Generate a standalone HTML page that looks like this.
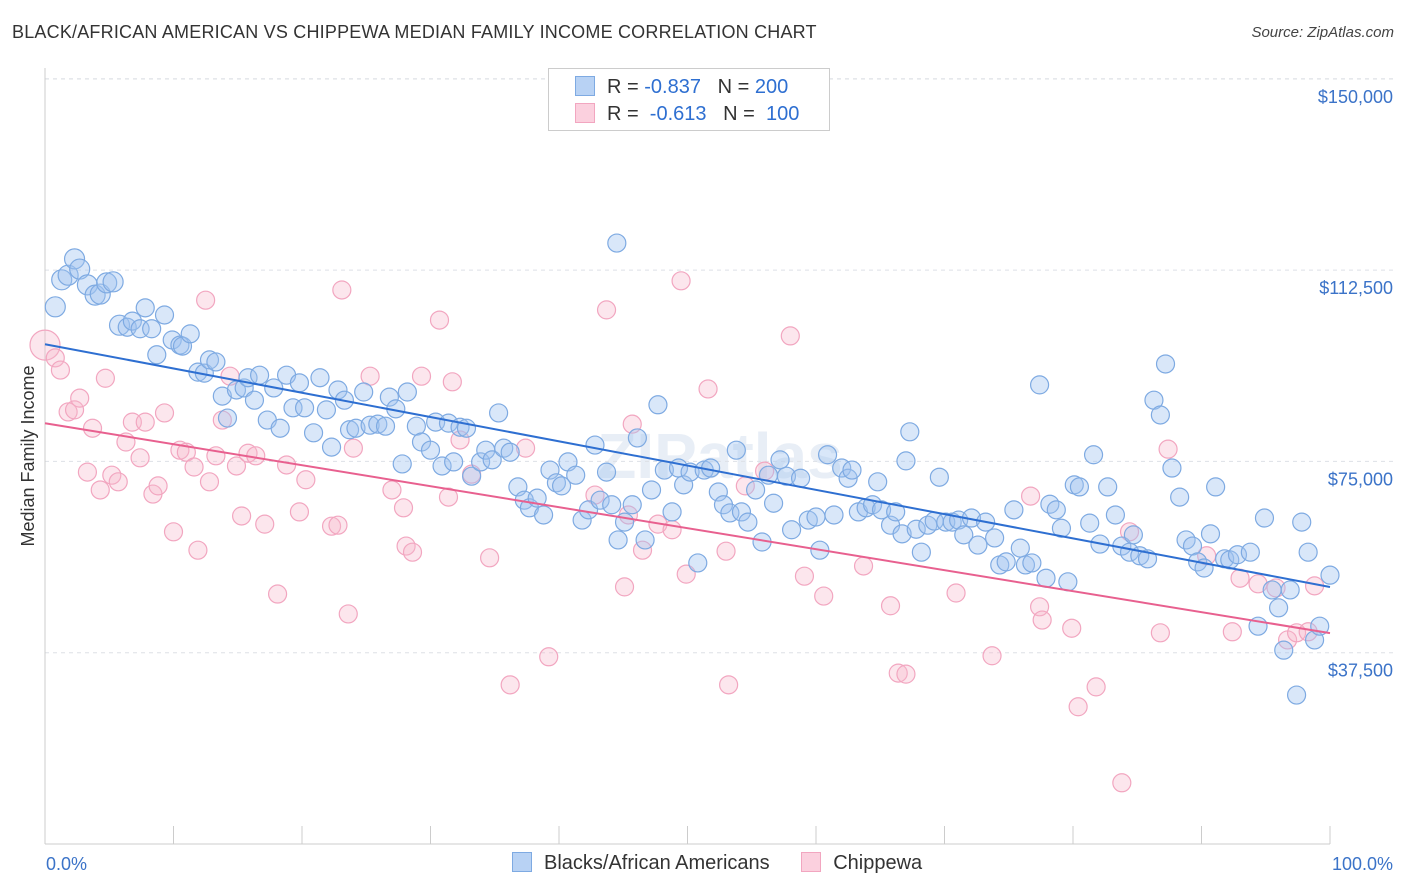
<!DOCTYPE html>
<html><head><meta charset="utf-8"><style>
body{margin:0;background:#fff;font-family:"Liberation Sans",sans-serif;}
#wrap{position:relative;width:1406px;height:892px;overflow:hidden;}
.title{position:absolute;left:12px;top:22px;font-size:18px;color:#333;letter-spacing:0.2px;}
.src{position:absolute;right:12px;top:24px;font-size:15px;color:#444;font-style:italic;}
</style></head><body>
<div id="wrap">
<div class="title">BLACK/AFRICAN AMERICAN VS CHIPPEWA MEDIAN FAMILY INCOME CORRELATION CHART</div>
<div class="src">Source: ZipAtlas.com</div>
<svg id="svg" width="1406" height="892" style="position:absolute;left:0;top:0"></svg>
</div>
<script>
const blueX=[0.8,1.3,1.8,2.3,2.7,3.3,3.9,4.3,4.8,5.3,5.8,6.4,6.8,7.4,7.8,8.3,8.7,9.3,9.9,10.5,10.7,11.3,11.9,12.4,12.8,13.3,13.8,14.2,14.9,15.5,15.8,16.3,16.7,17.3,17.8,18.3,18.8,19.3,19.8,20.2,20.9,21.4,21.9,22.3,22.8,23.3,23.7,24.2,24.8,25.3,25.9,26.5,26.8,27.3,27.8,28.2,28.9,29.3,30.0,30.4,30.9,31.4,31.8,32.3,32.8,33.2,33.9,34.3,34.8,35.3,35.7,36.2,36.8,37.3,37.7,38.3,38.8,39.3,39.8,40.2,40.7,41.3,41.8,42.3,42.8,43.2,43.7,44.1,44.5,44.6,45.1,45.7,46.1,46.7,47.2,47.7,48.2,48.8,49.3,49.7,50.2,50.8,51.3,51.8,52.4,52.8,53.3,53.8,54.2,54.7,55.3,55.8,56.3,56.7,57.2,57.7,58.1,58.8,59.4,60.0,60.3,60.9,61.4,62.0,62.5,62.8,63.3,63.9,64.4,64.8,65.1,65.8,66.2,66.7,67.0,67.3,67.8,68.2,68.7,69.2,69.6,70.1,70.6,71.1,71.5,72.1,72.6,73.2,73.9,74.3,74.8,75.4,75.9,76.3,76.8,77.4,77.9,78.2,78.7,79.1,79.6,80.1,80.5,81.3,81.6,82.1,82.7,83.3,83.8,84.4,84.7,85.2,85.8,86.3,86.8,87.2,87.7,88.3,88.8,89.3,89.7,90.2,90.7,91.1,91.8,92.2,92.8,93.8,94.4,94.9,95.5,96.0,96.4,96.9,97.4,97.8,98.3,98.8,99.2,100];
const blueY=[105.3,110.6,111.5,114.7,112.7,109.6,107.6,107.8,110.0,110.2,101.7,101.3,102.5,101.0,105.1,101.0,95.9,103.7,98.8,97.8,97.6,100.0,92.5,92.3,94.9,94.5,87.8,83.5,89.0,89.4,91.4,87.0,91.9,83.1,89.4,81.5,91.9,85.5,90.4,85.5,80.6,91.4,85.1,77.8,89.0,87.0,81.2,81.5,88.6,82.1,82.3,81.9,87.6,85.3,74.5,88.6,81.9,78.8,77.2,82.7,74.1,82.5,74.9,81.7,81.5,72.1,74.9,77.2,75.3,84.5,77.6,76.8,70.0,67.4,65.9,67.8,64.5,73.3,70.8,70.2,74.9,72.3,63.5,65.5,78.2,67.4,72.9,66.5,117.8,59.6,63.1,66.5,79.6,59.6,69.4,86.1,73.3,65.1,73.7,70.4,72.9,55.1,73.3,73.7,69.0,66.5,64.9,77.2,65.1,63.1,69.4,59.2,72.3,66.8,75.3,72.1,61.6,71.7,63.5,64.1,57.6,76.3,64.5,73.7,71.7,73.3,65.1,65.9,66.5,71.0,65.5,62.5,65.1,60.8,75.1,80.8,61.7,57.2,62.5,63.3,71.9,63.1,63.1,63.5,60.6,63.9,58.6,63.1,60.0,54.7,55.3,65.5,58.0,54.7,55.1,90.0,52.1,66.6,65.5,61.9,51.4,70.4,70.0,62.9,76.3,58.8,70.0,64.5,58.4,57.2,60.6,56.5,55.9,87.0,84.1,94.1,73.7,68.0,59.6,58.4,55.3,54.1,60.8,70.0,55.9,55.7,56.7,57.2,42.7,63.9,49.8,46.3,38.0,49.8,29.2,63.1,57.2,40.0,42.7,52.7];
const pinkX=[0,0.8,1.2,1.8,2.3,2.7,3.3,3.7,4.3,4.7,5.2,5.7,6.3,6.8,7.4,7.8,8.4,8.8,9.3,10.0,10.5,11.0,11.6,11.9,12.5,12.8,13.3,13.8,14.4,14.9,15.3,15.8,16.4,17.1,18.1,18.8,19.8,20.3,22.3,22.8,23.1,23.6,24.0,25.3,27.0,27.9,28.1,28.6,29.3,30.7,31.4,31.7,32.3,33.2,34.6,36.2,37.4,39.2,42.8,43.7,45.1,45.4,45.7,46.5,47.7,48.8,49.5,49.9,51.6,53.0,53.2,54.5,56.0,58.0,59.1,60.6,63.7,65.8,66.4,67.0,70.9,73.7,76.7,77.4,77.6,79.9,80.4,81.8,83.8,84.4,86.8,87.4,90.4,92.4,93.0,94.4,95.8,96.7,97.4,98.3,98.8];
const pinkY=[97.8,95.3,92.9,84.7,85.1,87.4,72.9,81.5,69.4,91.3,72.3,71.0,78.8,82.7,75.7,82.7,68.6,70.2,84.5,61.2,77.2,76.8,73.9,57.6,106.6,71.0,76.1,83.1,91.7,74.1,64.3,76.6,76.1,62.7,49.0,74.3,65.1,71.4,62.3,62.5,108.6,45.1,77.6,91.7,69.4,65.9,58.4,57.2,91.7,102.7,68.0,90.6,79.2,72.5,56.1,31.2,77.6,36.7,68.4,104.7,50.4,64.5,82.3,57.6,62.7,61.6,110.4,52.9,89.2,57.4,31.2,70.2,73.1,99.6,52.5,48.6,54.5,46.7,33.5,33.3,49.2,36.9,68.2,46.5,43.9,42.3,26.9,30.8,12.0,61.2,41.4,77.4,56.5,41.6,52.1,51.0,50.2,40.0,41.4,41.6,50.6];
const yTicks=[37.5,75,112.5,150];
const yTickLabels=["$37,500","$75,000","$112,500","$150,000"];
const xLabels=["0.0%","100.0%"];

const NS="http://www.w3.org/2000/svg";
const svg=document.getElementById('svg');
const X0=45,X1=1330,YB=844,PXK=191.3/37.5;
const sx=v=>X0+(X1-X0)*v/100, sy=v=>YB-v*PXK;
function mk(t,a){const e=document.createElementNS(NS,t);for(const k in a)e.setAttribute(k,a[k]);svg.appendChild(e);return e;}

// watermark
let wm=mk('text',{x:720,y:478,'font-size':64,'font-weight':'bold',fill:'#e8eef6','text-anchor':'middle','font-family':'Liberation Sans, sans-serif'});
wm.textContent='ZIPatlas';



yTicks.forEach((t,i)=>{
  const g=mk('line',{x1:X0,x2:1395,y1:sy(t),y2:sy(t),stroke:'#dde0e6','stroke-dasharray':'4,4'});
  
  
  const l=mk('text',{x:1393,y:sy(t)+24,'font-size':18,fill:'#3b73c8','text-anchor':'end','font-family':'Liberation Sans, sans-serif'});
  l.textContent=yTickLabels[i];
  
  
});
let tg=mk('line',{x1:X0,x2:1395,y1:79,y2:79,stroke:'#dde0e6','stroke-dasharray':'4,4'});


let ya=mk('line',{x1:X0,x2:X0,y1:68,y2:YB,stroke:'#ccc'});


let xa=mk('line',{x1:X0,x2:X1,y1:YB,y2:YB,stroke:'#ccc'});


for(let i=0;i<=10;i++){
  const t=mk('line',{x1:sx(i*10),x2:sx(i*10),y1:826,y2:YB,stroke:'#ccc'});
  
  
}
[[X0+1,'start',0],[1393,'end',1]].forEach(([x,a,i])=>{
  const t=mk('text',{x:x,y:870,'font-size':18,fill:'#3b73c8','text-anchor':a,'font-family':'Liberation Sans, sans-serif'});
  t.textContent=xLabels[i];
  
  
});
let yt=mk('text',{x:34,y:456,'font-size':18,fill:'#333','text-anchor':'middle',transform:'rotate(-90 34 456)','font-family':'Liberation Sans, sans-serif'});
yt.textContent='Median Family Income';



function dots(xs,ys,fill,stroke,name){
  xs.forEach((x,i)=>{
    const big=(name==='pink-point'&&i===0)?15:((name==='blue-point'&&x<6)?10:9);
    const c=mk('circle',{cx:sx(x),cy:sy(ys[i]),r:big,fill:fill,stroke:stroke,'stroke-width':1.2});
    
    
  });
}
function fit(xs,ys){const n=xs.length;let mx=0,my=0;xs.forEach((x,i)=>{mx+=x;my+=ys[i]});mx/=n;my/=n;let sxy=0,sxx=0;xs.forEach((x,i)=>{sxy+=(x-mx)*(ys[i]-my);sxx+=(x-mx)**2});const b=sxy/sxx;return [my-b*mx,b];}
dots(pinkX,pinkY,'rgba(247,182,204,0.35)','#f2a6c0','pink-point');
dots(blueX,blueY,'rgba(160,196,240,0.4)','#7eaae2','blue-point');
[[blueX,blueY,'#2e6fd1','blue-trend-line'],[pinkX,pinkY,'#e8608f','pink-trend-line']].forEach(([xs,ys,c,n])=>{
  const [a,b]=fit(xs,ys);
  const l=mk('line',{x1:sx(0),y1:sy(a),x2:sx(100),y2:sy(a+100*b),stroke:c,'stroke-width':2});
  
  
});
</script>
<div style="position:absolute;left:548px;top:68px;width:280px;height:61px;border:1px solid #ccc;background:#fff;font-size:20px;">
 <div style="position:absolute;left:26px;top:7px;white-space:nowrap;color:#333"><span style="display:inline-block;width:18px;height:18px;background:#b8d2f4;border:1px solid #7eaae2;vertical-align:-3px;margin-right:12px"></span>R = <span style="color:#2e6fd1">-0.837</span> &nbsp;&nbsp;N = <span style="color:#2e6fd1">200</span></div>
 <div style="position:absolute;left:26px;top:34px;white-space:nowrap;color:#333"><span style="display:inline-block;width:18px;height:18px;background:#fbd0de;border:1px solid #f2a6c0;vertical-align:-3px;margin-right:12px"></span>R = &nbsp;<span style="color:#2e6fd1">-0.613</span> &nbsp;&nbsp;N = &nbsp;<span style="color:#2e6fd1">100</span></div>
</div>
<div style="position:absolute;left:512px;top:852px;font-size:20px;color:#333;white-space:nowrap">
 <span><span style="display:inline-block;width:18px;height:18px;background:#b8d2f4;border:1px solid #7eaae2;vertical-align:-3px;margin-right:12px"></span>Blacks/African Americans</span>
 <span style="margin-left:26px"><span style="display:inline-block;width:18px;height:18px;background:#fbd0de;border:1px solid #f2a6c0;vertical-align:-3px;margin-right:12px"></span>Chippewa</span>
</div>
</body></html>
